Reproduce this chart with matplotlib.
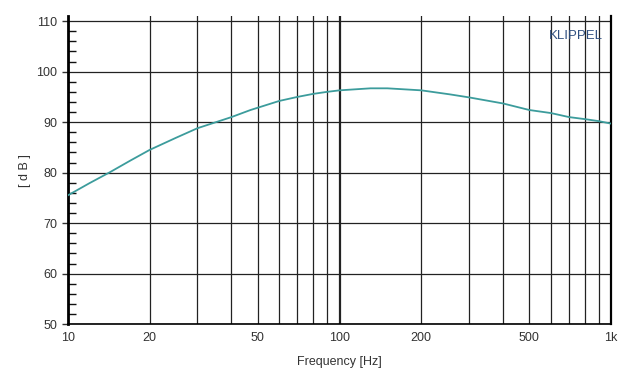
import matplotlib
matplotlib.use("Agg")
import matplotlib.pyplot as plt
from matplotlib.ticker import FixedLocator, MultipleLocator, NullFormatter
import numpy as np

# SPL-Kurve, Werte
freq = [10, 12, 14.3, 17, 20, 25, 30, 40, 47, 60, 70, 80, 90, 100, 130, 150,
        200, 255, 300, 400, 500, 600, 700, 800, 900, 1000]
spl = [75.5, 77.9, 80.1, 82.4, 84.5, 86.9, 88.8, 91.0, 92.4, 94.2, 95.0, 95.6,
       96.0, 96.3, 96.7, 96.7, 96.3, 95.5, 94.9, 93.7, 92.4, 91.8, 91.0, 90.6,
       90.2, 89.7]

x_ticks = [10, 20, 50, 100, 200, 500, 1000]
x_labels = ["10", "20", "50", "100", "200", "500", "1k"]
x_grid = [10, 20, 30, 40, 50, 60, 70, 80, 90, 100,
          200, 300, 400, 500, 600, 700, 800, 900, 1000]
y_ticks = [50, 60, 70, 80, 90, 100, 110]

plt.rcParams['font.family'] = ['Liberation Sans', 'DejaVu Sans']
fig = plt.figure(figsize=(6.4, 3.84), dpi=100)
ax = fig.add_axes([0.106, 0.156, 0.849, 0.802])

# Gitter
for f in x_grid:
    ax.axvline(f, color="#222222", lw=1.6 if f == 100 else 0.9, zorder=1)
for y in y_ticks:
    ax.axhline(y, color="#222222", lw=0.9, zorder=1)

ax.plot(freq, spl, color="#3c9c9c", lw=1.3, zorder=3)

ax.set_xscale("log")
ax.set_xlim(10, 1000)
ax.set_ylim(50, 111)
ax.xaxis.set_major_locator(FixedLocator(x_ticks))
ax.set_xticklabels(x_labels)
ax.xaxis.set_minor_formatter(NullFormatter())
ax.xaxis.set_minor_locator(FixedLocator([]))
ax.yaxis.set_major_locator(FixedLocator(y_ticks))
ax.yaxis.set_minor_locator(MultipleLocator(2))

ax.tick_params(axis="x", length=0, pad=6, labelsize=9, colors="#333333")
ax.tick_params(axis="y", which="major", direction="out", length=4, width=1,
               labelsize=9, colors="#333333")
ax.tick_params(axis="y", which="minor", direction="in", length=6, width=1,
               color="#111111")

ax.spines["top"].set_visible(False)
ax.spines["left"].set_linewidth(2)
ax.spines["bottom"].set_linewidth(1.2)
ax.spines["right"].set_linewidth(1.6)

ax.set_xlabel("Frequency [Hz]", fontsize=9, color="#333333", labelpad=8)
ax.set_ylabel("[ d B ]", fontsize=9, color="#333333", labelpad=4)

ax.text(0.985, 0.955, "KLIPPEL", transform=ax.transAxes, ha="right",
        va="top", fontsize=9.5, color="#2f4f80")

fig.savefig("out.png", dpi=100)
